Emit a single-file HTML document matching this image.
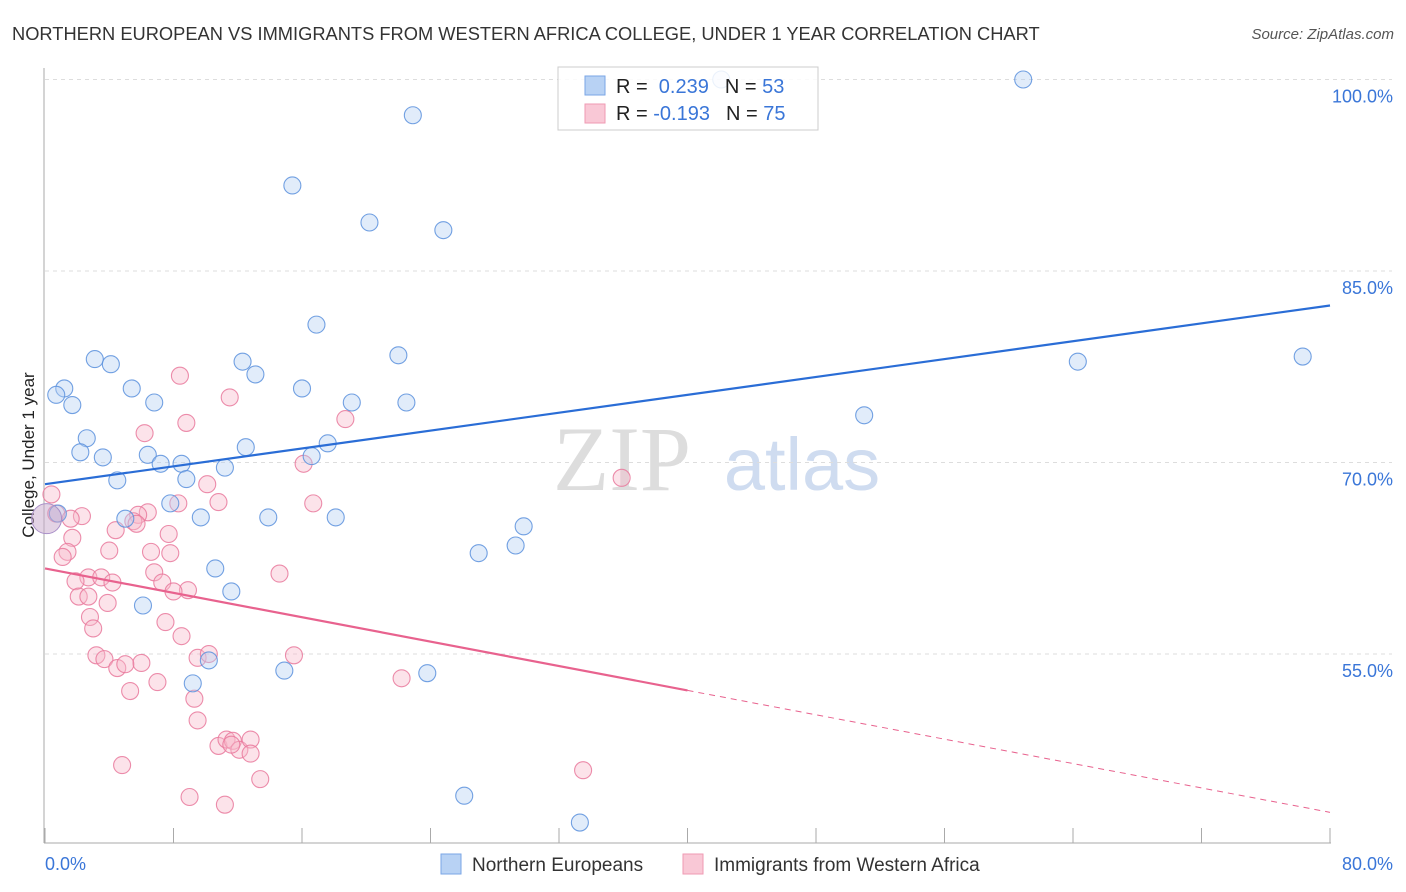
<!DOCTYPE html>
<html><head><meta charset="utf-8"><style>
body{margin:0;background:#fff;font-family:"Liberation Sans",sans-serif}
svg{display:block}
</style></head><body>
<svg id="chart" width="1406" height="892" viewBox="0 0 1406 892">
<text x="12" y="40" font-size="18.3" fill="#333">NORTHERN EUROPEAN VS IMMIGRANTS FROM WESTERN AFRICA COLLEGE, UNDER 1 YEAR CORRELATION CHART</text>
<text x="1394" y="39" font-size="15" fill="#555" text-anchor="end" font-style="italic">Source: ZipAtlas.com</text>
<text x="622" y="490" font-size="92" fill="#ddd" font-family="Liberation Serif,serif" text-anchor="middle">ZIP</text>
<text x="802" y="490" font-size="74" fill="#cfdcf0" text-anchor="middle">atlas</text>
<text transform="translate(34,455) rotate(-90)" font-size="17" fill="#222" text-anchor="middle">College, Under 1 year</text>
<g id="grid"></g><g id="axes"></g><g id="pts"></g><g id="trend"></g>
<g>
<rect x="558" y="67" width="260" height="63" fill="#fff" fill-opacity="0.85" stroke="#ccc"/>
<rect x="585" y="76" width="20" height="19" fill="#b8d2f4" stroke="#7aa6e6"/>
<rect x="585" y="104" width="20" height="19" fill="#f9c8d6" stroke="#ef9ab3"/>
<text x="616" y="93" font-size="20" fill="#222">R = <tspan fill="#3a76d8">&#160;0.239</tspan><tspan dx="16">N = </tspan><tspan fill="#3a76d8">53</tspan></text>
<text x="616" y="120" font-size="20" fill="#222">R = <tspan fill="#3a76d8">-0.193</tspan><tspan dx="16">N = </tspan><tspan fill="#3a76d8">75</tspan></text>
</g>
<g>
<rect x="441" y="854" width="20" height="20" fill="#b8d2f4" stroke="#7aa6e6"/>
<text x="472" y="871" font-size="19" fill="#333">Northern Europeans</text>
<rect x="683" y="854" width="20" height="20" fill="#f9c8d6" stroke="#ef9ab3"/>
<text x="714" y="871" font-size="19" fill="#333">Immigrants from Western Africa</text>
</g>
</svg>
<script>
const blueX=[60.9,42.1,22.9,15.4,20.2,24.8,16.9,3.1,4.1,22.0,12.3,13.1,1.2,0.7,1.7,5.4,6.8,16.0,19.1,22.5,2.6,2.2,3.6,6.4,7.2,8.5,12.5,11.2,16.6,17.6,4.5,8.8,7.8,9.7,5.0,13.9,18.1,29.8,29.3,27.0,10.6,11.6,6.1,10.2,14.9,23.8,9.2,26.1,33.3,51.0,64.3,78.3,0.8];
const blueY=[100.0,100.0,97.2,91.7,88.8,88.2,80.8,78.1,77.7,78.4,77.9,76.9,75.8,75.3,74.5,75.8,74.7,75.8,74.7,74.7,71.9,70.8,70.4,70.6,69.9,69.9,71.2,69.6,70.5,71.5,68.6,68.7,66.8,65.7,65.6,65.7,65.7,65.0,63.5,62.9,61.7,59.9,58.8,54.5,53.7,53.5,52.7,43.9,41.8,73.7,77.9,78.3,66.0];
const pinkX=[8.4,11.5,6.2,8.8,18.7,16.1,35.9,10.1,0.4,10.8,8.3,16.7,0.7,2.3,1.6,6.4,5.8,5.5,5.7,4.4,7.7,1.7,4.0,6.6,7.8,1.4,1.1,6.8,14.6,2.7,3.5,4.2,1.9,7.3,8.9,8.0,2.1,2.7,3.9,2.8,3.0,7.5,8.5,3.2,3.7,6.0,9.5,10.2,15.5,4.5,5.0,7.0,5.3,9.3,22.2,9.5,10.8,11.3,11.7,12.1,12.8,12.8,11.6,4.8,13.4,33.5,9.0,11.2];
const pinkY=[76.8,75.1,72.3,73.1,73.4,69.9,68.8,68.3,67.5,66.9,66.8,66.8,66.0,65.8,65.6,66.1,65.9,65.4,65.2,64.7,64.4,64.1,63.1,63.0,62.9,63.0,62.6,61.4,61.3,61.0,61.0,60.6,60.7,60.6,60.0,59.9,59.5,59.5,59.0,57.9,57.0,57.5,56.4,54.9,54.6,54.3,54.7,55.0,54.9,53.9,54.2,52.8,52.1,51.5,53.1,49.8,47.8,48.3,48.2,47.5,48.3,47.2,47.9,46.3,45.2,45.9,43.8,43.2];
const blueTrend=[68.3,82.3]; // y at x=0 and x=80
const pinkTrend=[61.7,42.6];
const pinkSolidEnd=40;
const yTicks=[55,70,85,100];
const xTickVals=[0,8,16,24,32,40,48,56,64,72,80];
const NS='http://www.w3.org/2000/svg';
const X=v=>45+v*1285/80, Y=v=>79.5+(100-v)*12.767;
function mk(tag,a,p){const e=document.createElementNS(NS,tag);for(const k in a)e.setAttribute(k,a[k]);p.appendChild(e);return e;}
const grid=document.getElementById('grid'),axes=document.getElementById('axes'),pts=document.getElementById('pts'),tr=document.getElementById('trend');
yTicks.forEach(t=>{
 const l=mk('line',{x1:45,x2:1392,y1:Y(t),y2:Y(t),stroke:'#ddd','stroke-dasharray':'4 4'},grid);
 
 
 const tx=mk('text',{x:1393,y:Y(t)+23,'font-size':18,fill:'#3a76d8','text-anchor':'end'},grid);
 tx.textContent=t.toFixed(1)+'%';
 
 
});
const ax=mk('line',{x1:44,x2:44,y1:68,y2:843,stroke:'#aaa'},axes);


const bx=mk('line',{x1:44,x2:1331,y1:843,y2:843,stroke:'#aaa'},axes);


xTickVals.forEach(t=>{
 const l=mk('line',{x1:X(t),x2:X(t),y1:828,y2:843,stroke:'#aaa'},axes);
 
 
});
[[0,'start'],[80,'end']].forEach(([t,a])=>{
 const tx=mk('text',{x:t?1393:45,y:870,'font-size':18,fill:'#3a76d8','text-anchor':a},axes);
 tx.textContent=t.toFixed(1)+'%';
 
 
});
function dots(xs,ys,fill,stroke,name){xs.forEach((x,i)=>{
 const c=mk('circle',{cx:X(x),cy:Y(ys[i]),r:8.5,fill:fill,'fill-opacity':0.4,stroke:stroke,'stroke-width':1.1,'stroke-opacity':0.85},pts);
 
 
});}
dots(pinkX,pinkY,'#f7b8cb','#e9799c','point-immigrants');
dots(blueX,blueY,'#b3cff2','#5b91dd','point-northern');
const big1=mk('circle',{cx:X(0.1),cy:Y(65.6),r:15,fill:'#c7a8cc','fill-opacity':0.5,stroke:'#a98fc8'},pts);


const bl=mk('line',{x1:X(0),y1:Y(blueTrend[0]),x2:X(80),y2:Y(blueTrend[1]),stroke:'#2a6dd6','stroke-width':2.2},tr);


const py=x=>pinkTrend[0]+(pinkTrend[1]-pinkTrend[0])*x/80;
const pl=mk('line',{x1:X(0),y1:Y(pinkTrend[0]),x2:X(pinkSolidEnd),y2:Y(py(pinkSolidEnd)),stroke:'#e8628e','stroke-width':2.2},tr);


const pd=mk('line',{x1:X(pinkSolidEnd),y1:Y(py(pinkSolidEnd)),x2:X(80),y2:Y(pinkTrend[1]),stroke:'#e8628e','stroke-width':1,'stroke-dasharray':'6 5'},tr);


</script>
</body></html>
